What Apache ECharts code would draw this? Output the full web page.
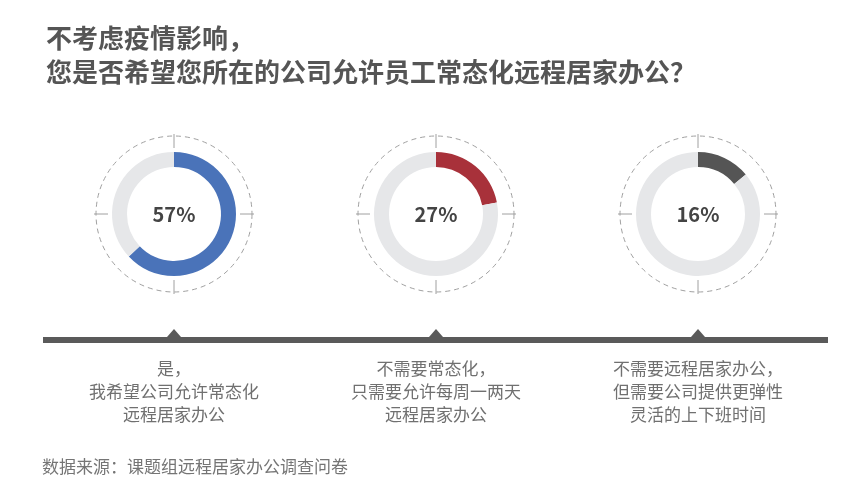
<!DOCTYPE html>
<html>
<head>
<meta charset="utf-8">
<script src="https://cdn.jsdelivr.net/npm/echarts@6/dist/echarts.min.js"></script>
<style>
html,body{margin:0;padding:0;background:#fff;}
#c{width:864px;height:495px;}
</style>
</head>
<body>
<div id="c"></div>
<script>
var titleLines = ['不考虑疫情影响，', '您是否希望您所在的公司允许员工常态化远程居家办公？'];
var categories = [
  '是，\n我希望公司允许常态化\n远程居家办公',
  '不需要常态化，\n只需要允许每周一两天\n远程居家办公',
  '不需要远程居家办公，\n但需要公司提供更弹性\n灵活的上下班时间'
];
// percentages printed in the centre of each ring
var labelValues = [57, 27, 16];
// share of each ring that is coloured, as drawn in the picture
var arcShares = [63, 22, 14];
var colors = ['#4a73b9', '#a8313a', '#555555'];
var sourceText = '数据来源：课题组远程居家办公调查问卷';

var FONT = '"Noto Sans CJK SC", "Noto Sans", sans-serif';
var centersX = [174, 436, 698];
var cy = 214;

var series = [];
var graphics = [];

graphics.push({
  type: 'rect', shape: {x: 43, y: 337, width: 785, height: 6},
  style: {fill: '#5a5a5a'}, silent: true
});

arcShares.forEach(function (v, i) {
  var cx = centersX[i];
  series.push({
    type: 'pie',
    center: [cx, cy],
    radius: [47, 62],
    startAngle: 90,
    clockwise: true,
    silent: true,
    animation: false,
    label: {show: false},
    labelLine: {show: false},
    data: [
      {value: v, itemStyle: {color: colors[i]},
       label: {show: true, position: 'center', formatter: labelValues[i] + '%',
               fontSize: 20, fontWeight: 'bold', color: '#444', fontFamily: FONT}},
      {value: 100 - v, itemStyle: {color: '#e6e7e9'}}
    ]
  });
  graphics.push({
    type: 'circle', shape: {cx: cx, cy: cy, r: 78},
    style: {fill: 'none', stroke: '#a0a0a0', lineWidth: 1, lineDash: [5, 4]}, silent: true
  });
  [[0, -1], [0, 1], [-1, 0], [1, 0]].forEach(function (d) {
    graphics.push({
      type: 'line',
      shape: {x1: cx + d[0] * 66, y1: cy + d[1] * 66, x2: cx + d[0] * 80, y2: cy + d[1] * 80},
      style: {stroke: '#a0a0a0', lineWidth: 1}, silent: true
    });
  });
  graphics.push({
    type: 'polygon', shape: {points: [[cx - 7, 337], [cx + 7, 337], [cx, 329]]},
    style: {fill: '#5a5a5a'}, silent: true
  });
  graphics.push({
    type: 'text', x: cx, y: 357,
    style: {text: categories[i], fill: '#707070', fontSize: 17, fontFamily: FONT,
            align: 'center', verticalAlign: 'top', lineHeight: 23},
    silent: true
  });
});

graphics.push({
  type: 'text', x: 42, y: 458,
  style: {text: sourceText, fill: '#757575', fontSize: 17, fontFamily: FONT, verticalAlign: 'top'},
  silent: true
});

var chart = echarts.init(document.getElementById('c'), null, {renderer: 'canvas'});
chart.setOption({
  backgroundColor: '#fff',
  animation: false,
  title: {
    text: titleLines.join('\n'),
    left: 41, top: 16,
    textStyle: {fontSize: 26, fontWeight: 'bold', color: '#555', lineHeight: 34, fontFamily: FONT}
  },
  series: series,
  graphic: graphics
});
</script>
</body>
</html>
